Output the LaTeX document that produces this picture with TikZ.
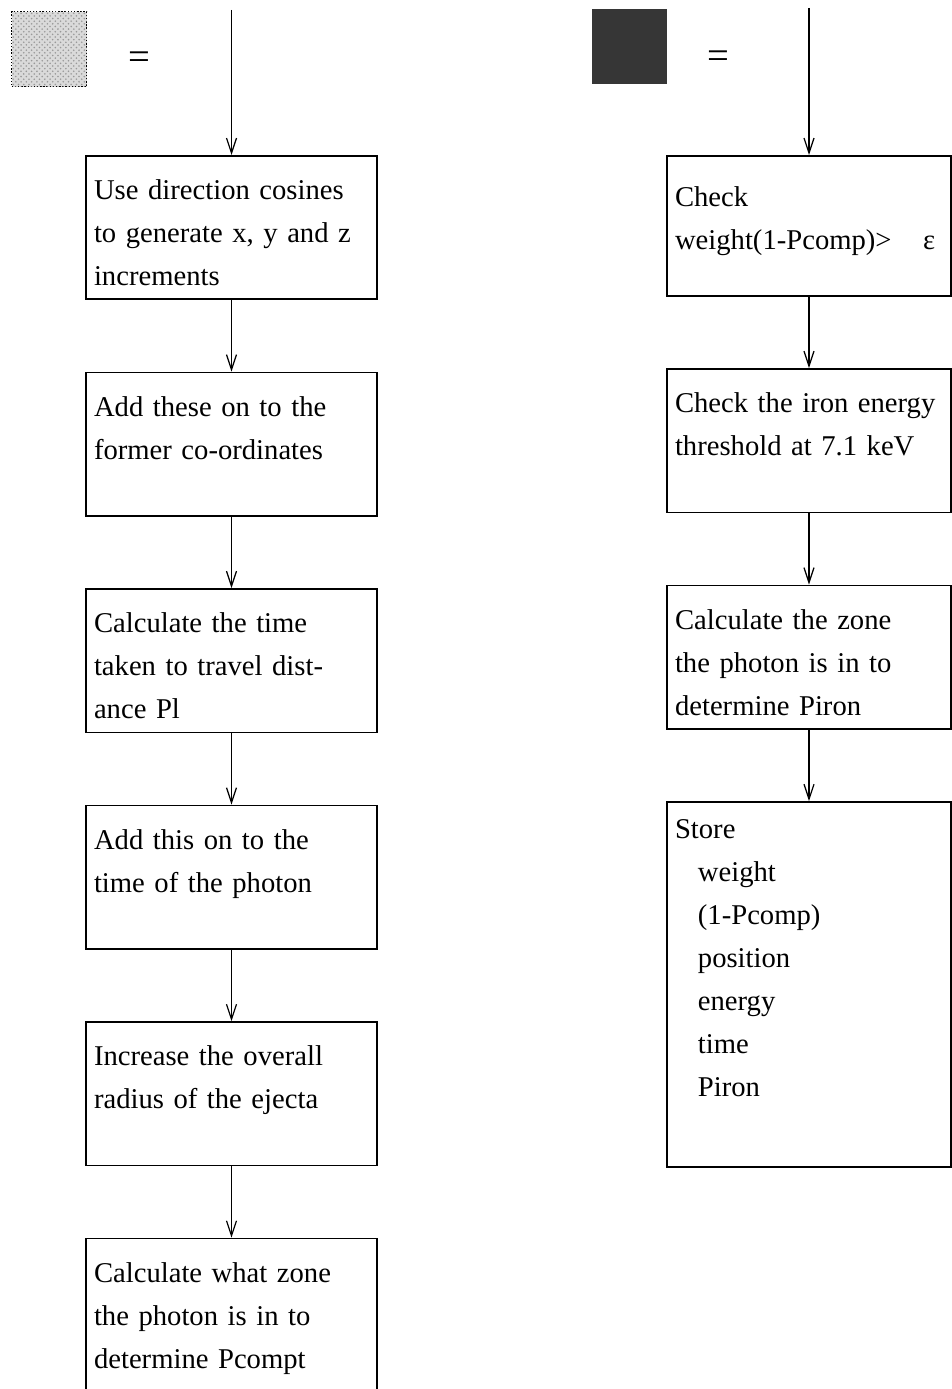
\documentclass[tikz,border=0pt]{standalone}
\usepackage{fontspec}
\setmainfont{Liberation Serif}
\usetikzlibrary{positioning, arrows.meta, patterns}
\definecolor{ckeylight}{HTML}{DADADA}
\definecolor{ckeydark}{HTML}{363636}
\tikzset{
  stepbox/.style={draw, line width=0.9pt, align=left, anchor=north,
                  font=\fontsize{16.3}{24.4}\selectfont,
                  inner xsep=0.16cm, inner ysep=0pt,
                  text height=0.88cm, text depth=1.99cm},
  lbox/.style={stepbox, text width=5.5cm},
  rbox/.style={stepbox, text width=5.36cm},
  key/.style={minimum size=1.5cm, inner sep=0pt, anchor=north west},
  eq/.style={font=\fontsize{22}{26}\selectfont, inner sep=0pt},
  fl/.style={-{Straight Barb[length=3mm,width=2mm]}, line width=0.7pt},
}
\begin{document}
\begin{tikzpicture}[x=0.02cm, y=-0.02cm, node distance=1.43cm]
  \useasboundingbox (0,0) rectangle (951,1389);
  % legend
  \node[key, fill=ckeylight, draw, densely dotted, line width=0.8pt,
        postaction={pattern=crosshatch dots, pattern color=black!40}] (kl) at (11,11) {};
  \node[eq] (eql) at (139,61) {=};
  \node[key, fill=ckeydark] (kd) at (592,9) {};
  \node[eq] (eqd) at (718,60) {=};
  % left column
  \coordinate (ltop) at (231.5,10);
  \node[lbox] (l1) at (231.5,155) {Use direction cosines\\to generate x, y and z\\increments};
  \node[lbox, below=of l1] (l2) {Add these on to the\\former co-ordinates};
  \node[lbox, below=of l2] (l3) {Calculate the time\\taken to travel dist-\\ance Pl};
  \node[lbox, below=of l3] (l4) {Add this on to the\\time of the photon};
  \node[lbox, below=of l4] (l5) {Increase the overall\\radius of the ejecta};
  \node[lbox, below=of l5, text depth=3cm] (l6) {Calculate what zone\\the photon is in to\\determine Pcompt};
  \draw[fl] (ltop) -- (l1);
  \draw[fl] (l1) -- (l2);
  \draw[fl] (l2) -- (l3);
  \draw[fl] (l3) -- (l4);
  \draw[fl] (l4) -- (l5);
  \draw[fl] (l5) -- (l6);
  % right column
  \coordinate (rtop) at (809,8);
  \node[rbox, text height=1.02cm, text depth=1.78cm] (r1) at (809,155) {Check\\weight(1-Pcomp)>\hspace{1.1em}ε};
  \node[rbox, below=of r1] (r2) {Check the iron energy\\threshold at 7.1 keV};
  \node[rbox, below=of r2] (r3) {Calculate the zone\\the photon is in to\\determine Piron};
  \node[rbox, below=of r3, text height=0.74cm, text depth=6.56cm] (r4) {Store\\
    \hspace*{0.8em}weight\\\hspace*{0.8em}(1-Pcomp)\\\hspace*{0.8em}position\\
    \hspace*{0.8em}energy\\\hspace*{0.8em}time\\\hspace*{0.8em}Piron};
  \draw[fl] (rtop) -- (r1);
  \draw[fl] (r1) -- (r2);
  \draw[fl] (r2) -- (r3);
  \draw[fl] (r3) -- (r4);
\end{tikzpicture}
\end{document}
